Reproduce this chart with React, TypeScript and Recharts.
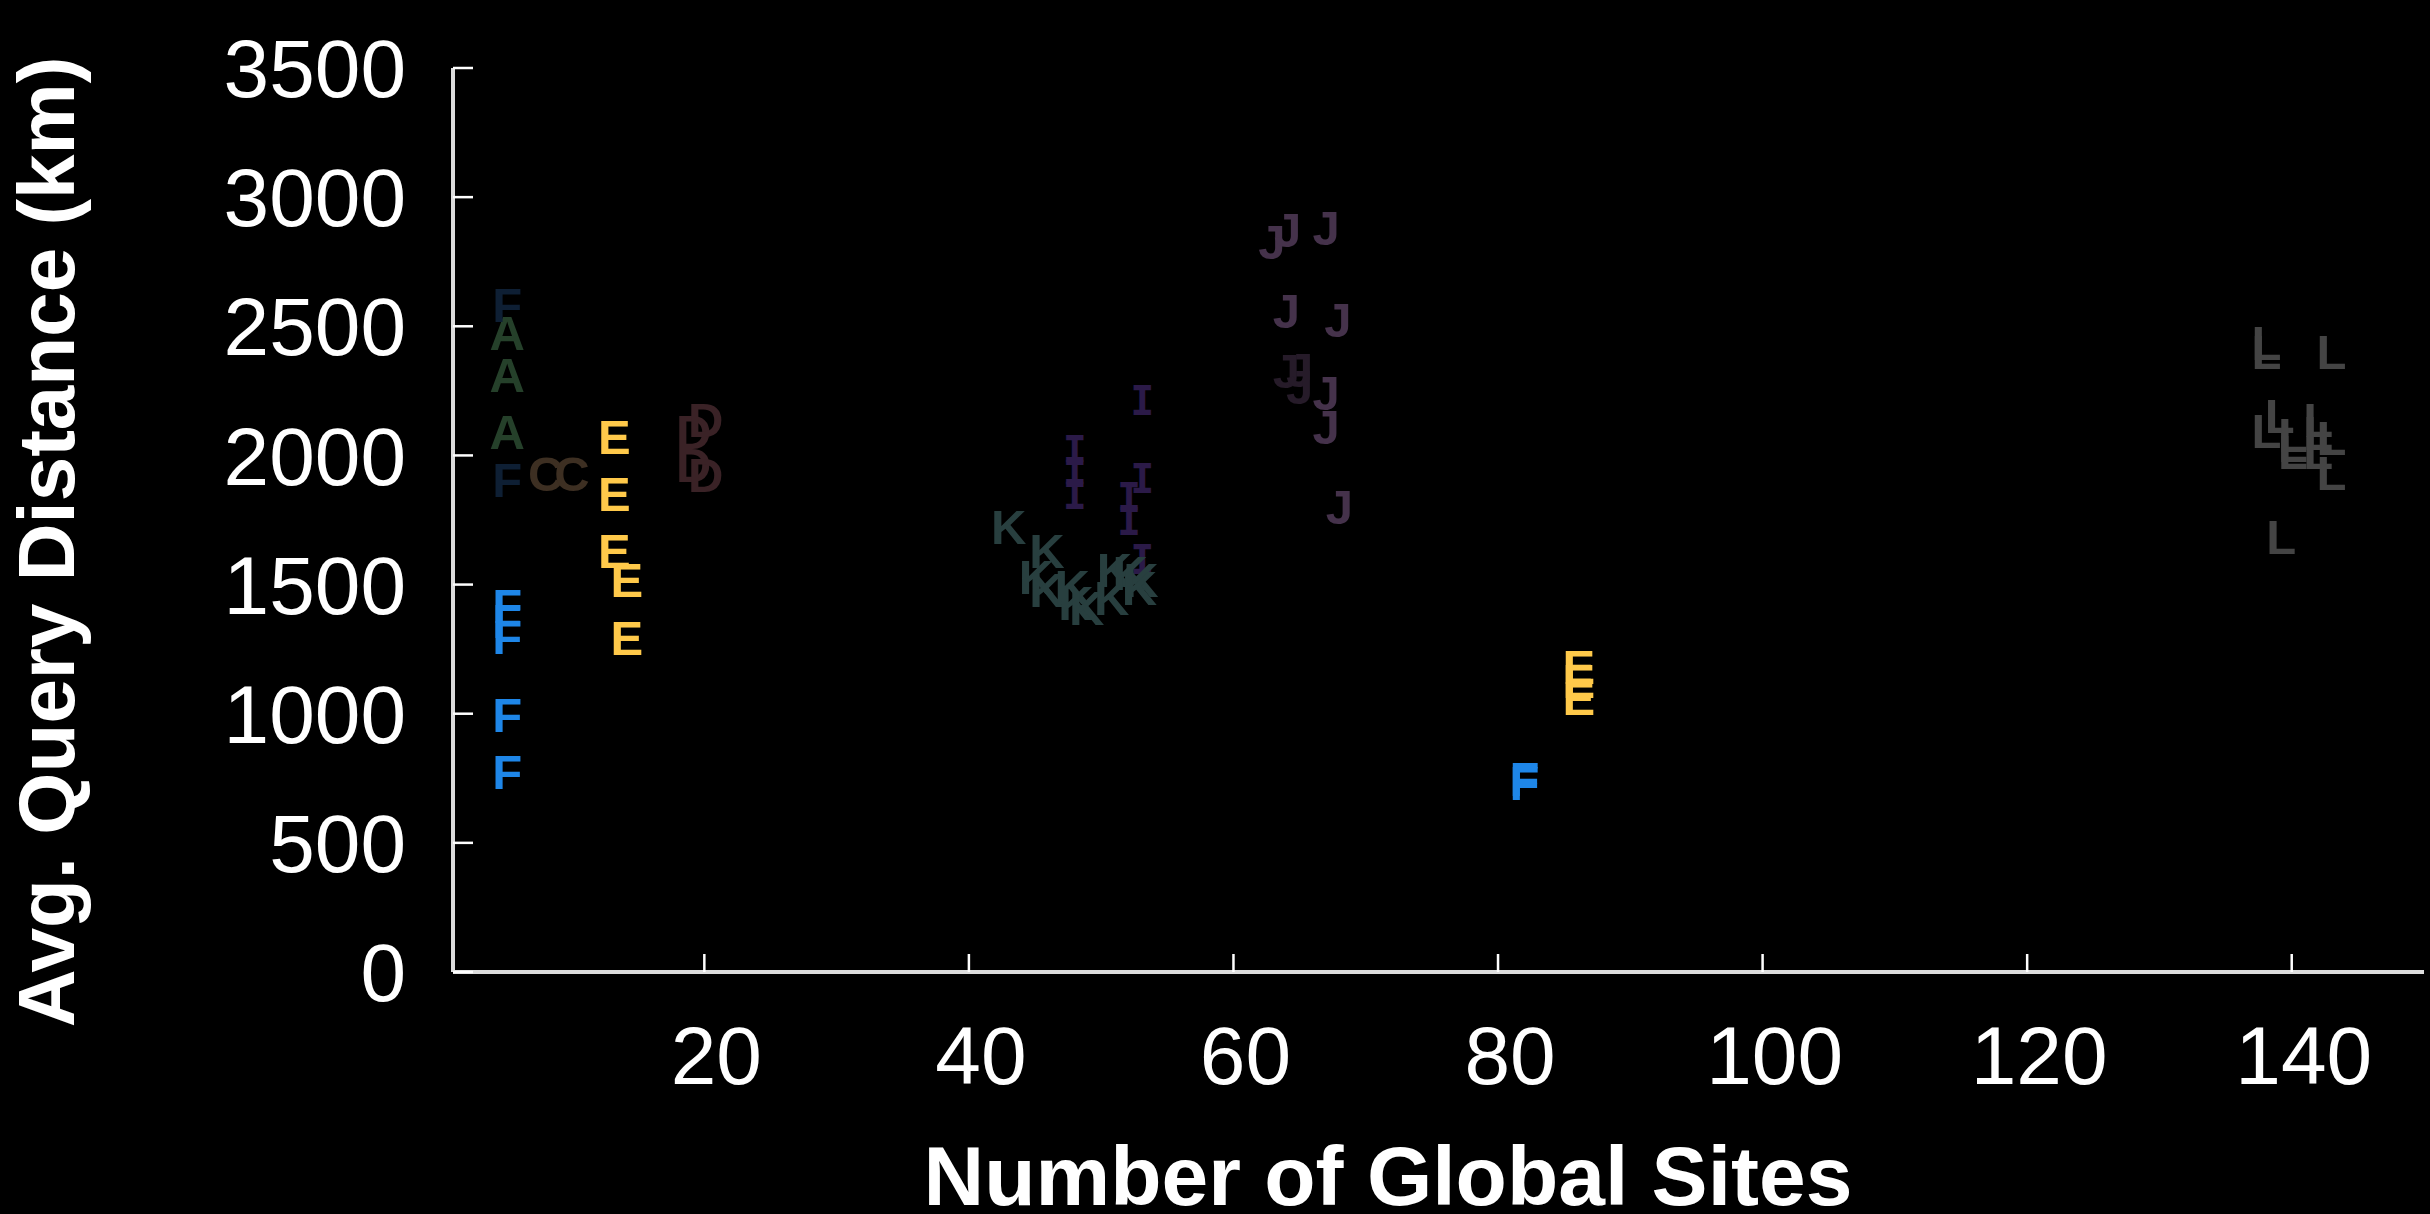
import { ScatterChart, Scatter, XAxis, YAxis, Label } from "recharts";

const xTicks = [20, 40, 60, 80, 100, 120, 140];
const yTicks = [0, 500, 1000, 1500, 2000, 2500, 3000, 3500];

// letter markers, one list per group
const aPoints = [
  { x: 5.1, y: 2477 },
  { x: 5.1, y: 2314 },
  { x: 5.1, y: 2093 },
];
const fNavyPoints = [
  { x: 5.1, y: 2586 },
  { x: 5.1, y: 1909 },
];
const cPoints = [
  { x: 8.0, y: 1930 },
  { x: 10.0, y: 1930 },
];
const dPoints = [
  { x: 19.2, y: 2095 },
  { x: 19.2, y: 1965 },
  { x: 20.1, y: 2138 },
  { x: 20.1, y: 1928 },
];
const ePoints = [
  { x: 13.2, y: 2075 },
  { x: 13.2, y: 1854 },
  { x: 13.2, y: 1633 },
  { x: 14.15, y: 1522 },
  { x: 14.15, y: 1294 },
  { x: 86.1, y: 1183 },
  { x: 86.1, y: 1129 },
  { x: 86.1, y: 1063 },
];
const fBluePoints = [
  { x: 5.1, y: 1419 },
  { x: 5.1, y: 1363 },
  { x: 5.1, y: 1301 },
  { x: 5.1, y: 997 },
  { x: 5.1, y: 775 },
  { x: 82.0, y: 750 },
  { x: 82.0, y: 736 },
];
const iPoints = [
  { x: 48.0, y: 2020 },
  { x: 48.0, y: 1935 },
  { x: 48.0, y: 1849 },
  { x: 52.1, y: 1838 },
  { x: 52.1, y: 1746 },
  { x: 53.1, y: 2211 },
  { x: 53.1, y: 1911 },
  { x: 53.1, y: 1595 },
];
const kPoints = [
  { x: 43.0, y: 1727 },
  { x: 45.9, y: 1633 },
  { x: 45.1, y: 1533 },
  { x: 45.9, y: 1481 },
  { x: 47.8, y: 1494 },
  { x: 48.1, y: 1431 },
  { x: 48.9, y: 1412 },
  { x: 51.0, y: 1559 },
  { x: 50.8, y: 1451 },
  { x: 52.2, y: 1547 },
  { x: 53.0, y: 1520 },
  { x: 52.9, y: 1490 },
];
const jPoints = [
  { x: 62.9, y: 2829 },
  { x: 64.1, y: 2875 },
  { x: 67.0, y: 2883 },
  { x: 64.0, y: 2561 },
  { x: 67.9, y: 2527 },
  { x: 67.0, y: 2243 },
  { x: 67.0, y: 2114 },
  { x: 68.0, y: 1804 },
];
const jDarkPoints = [
  { x: 64.0, y: 2329 },
  { x: 65.0, y: 2333 },
  { x: 65.0, y: 2269 },
];
const lPoints = [
  { x: 138.1, y: 2437 },
  { x: 138.1, y: 2404 },
  { x: 143.0, y: 2404 },
  { x: 138.1, y: 2096 },
  { x: 139.1, y: 2154 },
  { x: 140.1, y: 2082 },
  { x: 140.1, y: 2043 },
  { x: 140.1, y: 2017 },
  { x: 142.0, y: 2140 },
  { x: 142.0, y: 2088 },
  { x: 142.0, y: 2017 },
  { x: 143.0, y: 2069 },
  { x: 143.0, y: 1933 },
  { x: 139.2, y: 1686 },
];

const groups = [
  { key: "A", letter: "A", color: "#25402a", data: aPoints },
  { key: "Fn", letter: "F", color: "#0e1f34", data: fNavyPoints },
  { key: "C", letter: "C", color: "#3d2f22", data: cPoints },
  { key: "D", letter: "D", color: "#3a2226", data: dPoints },
  { key: "E", letter: "E", color: "#ffc94a", data: ePoints },
  { key: "Fb", letter: "F", color: "#1e86e8", data: fBluePoints },
  { key: "Jd", letter: "J", color: "#261b29", data: jDarkPoints },
  { key: "J", letter: "J", color: "#45324b", data: jPoints },
  { key: "I", letter: "I", color: "#2b1a48", data: iPoints, mono: true },
  { key: "K", letter: "K", color: "#283f3f", data: kPoints },
  { key: "L", letter: "L", color: "#444444", data: lPoints },
];

const FONT = "'Liberation Sans', Arial, Helvetica, sans-serif";

function letterShape(letter: string, color: string, mono?: boolean) {
  return (props: any) => (
    <text
      x={props.cx}
      y={props.cy}
      dy="0.36em"
      textAnchor="middle"
      fill={color}
      fontFamily={mono ? "'DejaVu Sans Mono', monospace" : FONT}
      fontWeight="bold"
      fontSize={mono ? 40 : 49}
    >
      {letter}
    </text>
  );
}

export default function App() {
  return (
    <div style={{ position: "absolute", left: 0, top: 0, width: 2430, height: 1214, background: "#000" }}>
      <ScatterChart width={2430} height={1214} margin={{ top: 68, right: 6, bottom: 0, left: 0 }}>
        <XAxis
          type="number"
          dataKey="x"
          domain={[1, 150]}
          ticks={xTicks}
          height={242}
          stroke="#dddddd"
          axisLine={{ stroke: "#dddddd", strokeWidth: 4 }}
          tickLine={{ stroke: "#ffffff", strokeWidth: 2.5 }}
          tickSize={-18}
          tickMargin={72}
          tick={{ fill: "#ffffff", fontSize: 82, fontFamily: FONT, dx: 12 }}
        >
          <Label
            content={() => (
              <text x={1388} y={1205} textAnchor="middle" fill="#fff" fontFamily={FONT} fontWeight="bold" fontSize={84}>
                Number of Global Sites
              </text>
            )}
          />
        </XAxis>
        <YAxis
          type="number"
          dataKey="y"
          domain={[0, 3500]}
          ticks={yTicks}
          width={453}
          stroke="#dddddd"
          axisLine={{ stroke: "#dddddd", strokeWidth: 4 }}
          tickLine={{ stroke: "#ffffff", strokeWidth: 2.5 }}
          tickSize={-20}
          tickMargin={67}
          tick={{ fill: "#ffffff", fontSize: 82, fontFamily: FONT }}
        >
          <Label
            content={() => (
              <text
                transform="translate(74,542) rotate(-90)"
                textAnchor="middle"
                fill="#fff"
                fontFamily={FONT}
                fontWeight="bold"
                fontSize={80}
              >
                Avg. Query Distance (km)
              </text>
            )}
          />
        </YAxis>
        {groups.map((g) => (
          <Scatter
            key={g.key}
            name={g.key}
            data={g.data}
            isAnimationActive={false}
            shape={letterShape(g.letter, g.color, g.mono)}
          />
        ))}
      </ScatterChart>
    </div>
  );
}
